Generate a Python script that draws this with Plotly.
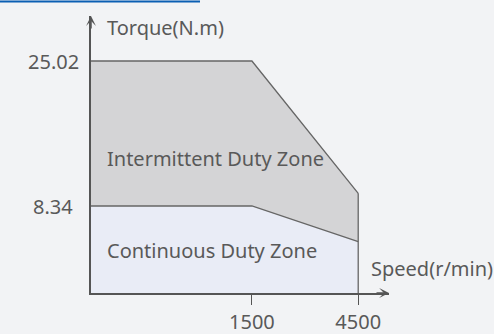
import plotly.graph_objects as go

# Torque-speed envelope of the servo motor
speeds = [0, 1500, 4500]                 # r/min
speed_slot = [0, 1.62, 2.69]             # schematic (non-linear) placement on the speed axis
continuous_torque = [8.34, 8.34, 4.23]   # N.m, rated
intermittent_torque = [25.02, 25.02, 9.8]  # N.m, peak

torque_ticks = [8.34, 25.02]
torque_labels = ["8.34", "25.02"]
speed_ticks = [1500, 4500]

x_range = [0, 3.0]
y_range = [-1.67, 30.2]

bg = "#f2f3f5"
edge = "#666666"
axis_col = "#555555"
text_col = "#595959"
font_family = "Noto Sans, Open Sans, sans-serif"
fs = 20

fig = go.Figure()

# baseline at the bottom of the torque axis so the zones sit on the speed axis
fig.add_trace(go.Scatter(
    x=speed_slot, y=[y_range[0]] * len(speed_slot), mode="lines",
    line=dict(width=0, color=bg), hoverinfo="skip", showlegend=False))

fig.add_trace(go.Scatter(
    x=speed_slot, y=continuous_torque, mode="lines", fill="tonexty",
    fillcolor="#e9ecf6", line=dict(color=edge, width=1.3),
    name="Continuous Duty Zone", showlegend=False))

fig.add_trace(go.Scatter(
    x=speed_slot, y=intermittent_torque, mode="lines", fill="tonexty",
    fillcolor="#d4d4d6", line=dict(color=edge, width=1.3),
    name="Intermittent Duty Zone", showlegend=False))

# right-hand boundary at maximum speed
fig.add_trace(go.Scatter(
    x=[speed_slot[-1], speed_slot[-1]], y=[y_range[0], intermittent_torque[-1]],
    mode="lines", line=dict(color=edge, width=1.3), hoverinfo="skip", showlegend=False))

slot_of = dict(zip(speeds, speed_slot))

annotations = []
# torque tick labels, centred in the left margin
for v, lab in zip(torque_ticks, torque_labels):
    annotations.append(dict(
        x=-0.127, xref="paper", y=v, yref="y", text=lab, showarrow=False,
        xanchor="center", yanchor="middle",
        font=dict(size=fs, color=text_col, family=font_family)))

# axis arrowheads
annotations.append(dict(
    x=0, xref="x", y=1, yref="paper", ax=0, ay=14, axref="pixel", ayref="pixel",
    text="", showarrow=True, arrowhead=3, arrowsize=1.1, arrowwidth=1.5,
    arrowcolor=axis_col))
annotations.append(dict(
    x=1, xref="paper", y=y_range[0], yref="y", ax=-14, ay=0,
    text="", showarrow=True, arrowhead=3, arrowsize=1.1, arrowwidth=1.5,
    arrowcolor=axis_col))

# axis titles and zone names
annotations += [
    dict(x=0.047, xref="paper", y=0.96, yref="paper", text="Torque(N.m)",
         showarrow=False, xanchor="left", yanchor="middle",
         font=dict(size=fs, color=text_col, family=font_family)),
    dict(x=0.933, xref="paper", y=0.09, yref="paper", text="Speed(r/min)",
         showarrow=False, xanchor="left", yanchor="middle",
         font=dict(size=fs, color=text_col, family=font_family)),
    dict(x=0.047, xref="paper", y=0.484, yref="paper", text="Intermittent Duty Zone",
         showarrow=False, xanchor="left", yanchor="middle",
         font=dict(size=fs, color=text_col, family=font_family)),
    dict(x=0.047, xref="paper", y=0.155, yref="paper", text="Continuous Duty Zone",
         showarrow=False, xanchor="left", yanchor="middle",
         font=dict(size=fs, color=text_col, family=font_family)),
]

fig.update_layout(
    width=494, height=334,
    margin=dict(l=91, r=105, t=16, b=41),
    paper_bgcolor=bg, plot_bgcolor=bg,
    annotations=annotations,
    shapes=[dict(type="line", xref="paper", yref="paper", layer="above",
                 x0=-91 / 298, x1=109 / 298, y0=1 + 14.5 / 277, y1=1 + 14.5 / 277,
                 line=dict(color="#0b5fb3", width=2))],
    xaxis=dict(
        range=x_range, showgrid=False, zeroline=False, automargin=False,
        showline=True, linecolor=axis_col, linewidth=1.5,
        ticks="outside", ticklen=10, tickwidth=1.3, tickcolor=axis_col,
        tickvals=[slot_of[s] for s in speed_ticks],
        ticktext=[str(s) for s in speed_ticks],
        tickfont=dict(size=fs, color=text_col, family=font_family),
    ),
    yaxis=dict(
        range=y_range, showgrid=False, zeroline=False, automargin=False,
        showline=True, linecolor=axis_col, linewidth=1.5,
        showticklabels=False, ticks="",
    ),
)

fig.write_html("out.html")
